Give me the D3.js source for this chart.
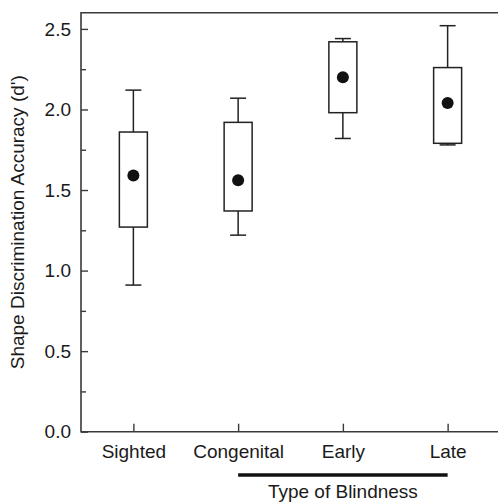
<!DOCTYPE html>
<html>
<head>
<meta charset="utf-8">
<script src="https://cdn.jsdelivr.net/npm/d3@7"></script>
<style>
    body { margin: 0; background: #fff; }
    svg { display: block; font-family: "Liberation Sans", Arial, sans-serif; }
</style>
</head>
<body>
<svg></svg>
<script>

//Groups on the x axis
let categories = ['Sighted', 'Congenital', 'Early', 'Late']

//Box plot values (d')
let whiskerLow  = [0.91, 1.22, 1.82, 1.78]
let boxLow      = [1.27, 1.37, 1.98, 1.79]
let means       = [1.59, 1.56, 2.20, 2.04]
let boxHigh     = [1.86, 1.92, 2.42, 2.26]
let whiskerHigh = [2.12, 2.07, 2.44, 2.52]

let majorTicks = [0, 0.5, 1.0, 1.5, 2.0, 2.5]
let minorTicks = [0.25, 0.75, 1.25, 1.75, 2.25]

//Group bracketed under the axis
let blindGroups = ['Congenital', 'Early', 'Late']

//Canvas size
let width = 498
let height = 503
let plotLeft = 81
let plotRight = 500
let plotTop = 12.8
let plotBottom = 431.7

let boxWidth = 28
let capWidth = 16

let svg = d3.select('svg')
    .attr('width', width)
    .attr('height', height)

let xScale = d3.scalePoint()
    .domain(categories)
    .range([plotLeft, plotRight])
    .padding(0.5)

let yScale = d3.scaleLinear()
    .domain([0, 2.6])
    .range([plotBottom, plotTop])

let values = categories.map((c, i) => {
    return {
        name: c,
        wl: whiskerLow[i],
        bl: boxLow[i],
        m: means[i],
        bh: boxHigh[i],
        wh: whiskerHigh[i]
    }
})

//frame (right side runs off the picture)
svg.append('path')
    .attr('d', 'M' + plotRight + ',' + plotTop + 'H' + plotLeft + 'V' + plotBottom + 'H' + plotRight)
    .attr('fill', 'none')
    .attr('stroke', '#3a3a3a')
    .attr('stroke-width', 1.6)

//minor ticks
svg.append('g')
    .attr('transform', 'translate(' + plotLeft + ',0)')
    .call(d3.axisLeft(yScale).tickValues(minorTicks).tickSize(-5).tickFormat(''))
    .call(g => g.select('.domain').remove())
    .call(g => g.selectAll('line').attr('stroke', '#3a3a3a').attr('stroke-width', 1.4))

//major ticks and labels
svg.append('g')
    .attr('transform', 'translate(' + plotLeft + ',0)')
    .call(d3.axisLeft(yScale).tickValues(majorTicks).tickSize(-7).tickPadding(10).tickFormat(d3.format('.1f')))
    .call(g => g.select('.domain').remove())
    .call(g => g.selectAll('line').attr('stroke', '#3a3a3a').attr('stroke-width', 1.4))
    .call(g => g.selectAll('text').attr('font-size', 19).attr('fill', '#1a1a1a').style('font-family', 'inherit'))

//x axis
svg.append('g')
    .attr('transform', 'translate(0,' + plotBottom + ')')
    .call(d3.axisBottom(xScale).tickSizeInner(-8).tickSizeOuter(0).tickPadding(12.5))
    .call(g => g.select('.domain').remove())
    .call(g => g.selectAll('line').attr('stroke', '#3a3a3a').attr('stroke-width', 1.4))
    .call(g => g.selectAll('text').attr('font-size', 19).attr('fill', '#1a1a1a').style('font-family', 'inherit'))

//whiskers
let boxes = svg.selectAll('.box')
    .data(values)
    .enter()
    .append('g')
    .attr('class', 'box')

boxes.append('line')
    .attr('x1', d => xScale(d.name))
    .attr('x2', d => xScale(d.name))
    .attr('y1', d => yScale(d.wl))
    .attr('y2', d => yScale(d.wh))
    .attr('stroke', '#222')
    .attr('stroke-width', 1.5)

boxes.selectAll('.cap')
    .data(d => [{ x: d.name, v: d.wl }, { x: d.name, v: d.wh }])
    .enter()
    .append('line')
    .attr('class', 'cap')
    .attr('x1', d => xScale(d.x) - capWidth / 2)
    .attr('x2', d => xScale(d.x) + capWidth / 2)
    .attr('y1', d => yScale(d.v))
    .attr('y2', d => yScale(d.v))
    .attr('stroke', '#222')
    .attr('stroke-width', 1.5)

//boxes
boxes.append('rect')
    .attr('x', d => xScale(d.name) - boxWidth / 2)
    .attr('width', boxWidth)
    .attr('y', d => yScale(d.bh))
    .attr('height', d => yScale(d.bl) - yScale(d.bh))
    .attr('fill', '#fff')
    .attr('stroke', '#222')
    .attr('stroke-width', 1.5)

//means
boxes.append('circle')
    .attr('cx', d => xScale(d.name))
    .attr('cy', d => yScale(d.m))
    .attr('r', 6)
    .attr('fill', '#111')

//y label
svg.append('text')
    .attr('transform', 'rotate(-90)')
    .attr('x', -(plotTop + plotBottom) / 2)
    .attr('y', 24)
    .attr('text-anchor', 'middle')
    .attr('font-size', 19)
    .attr('fill', '#1a1a1a')
    .text("Shape Discrimination Accuracy (d')")

//bracket for blind groups
let bx1 = xScale(blindGroups[0])
let bx2 = xScale(blindGroups[blindGroups.length - 1])

svg.append('line')
    .attr('x1', bx1)
    .attr('x2', bx2)
    .attr('y1', 475)
    .attr('y2', 475)
    .attr('stroke', '#111')
    .attr('stroke-width', 3.3)

svg.append('text')
    .attr('x', xScale('Early'))
    .attr('y', 498)
    .attr('text-anchor', 'middle')
    .attr('font-size', 19)
    .attr('fill', '#1a1a1a')
    .text('Type of Blindness')

</script>
</body>
</html>
